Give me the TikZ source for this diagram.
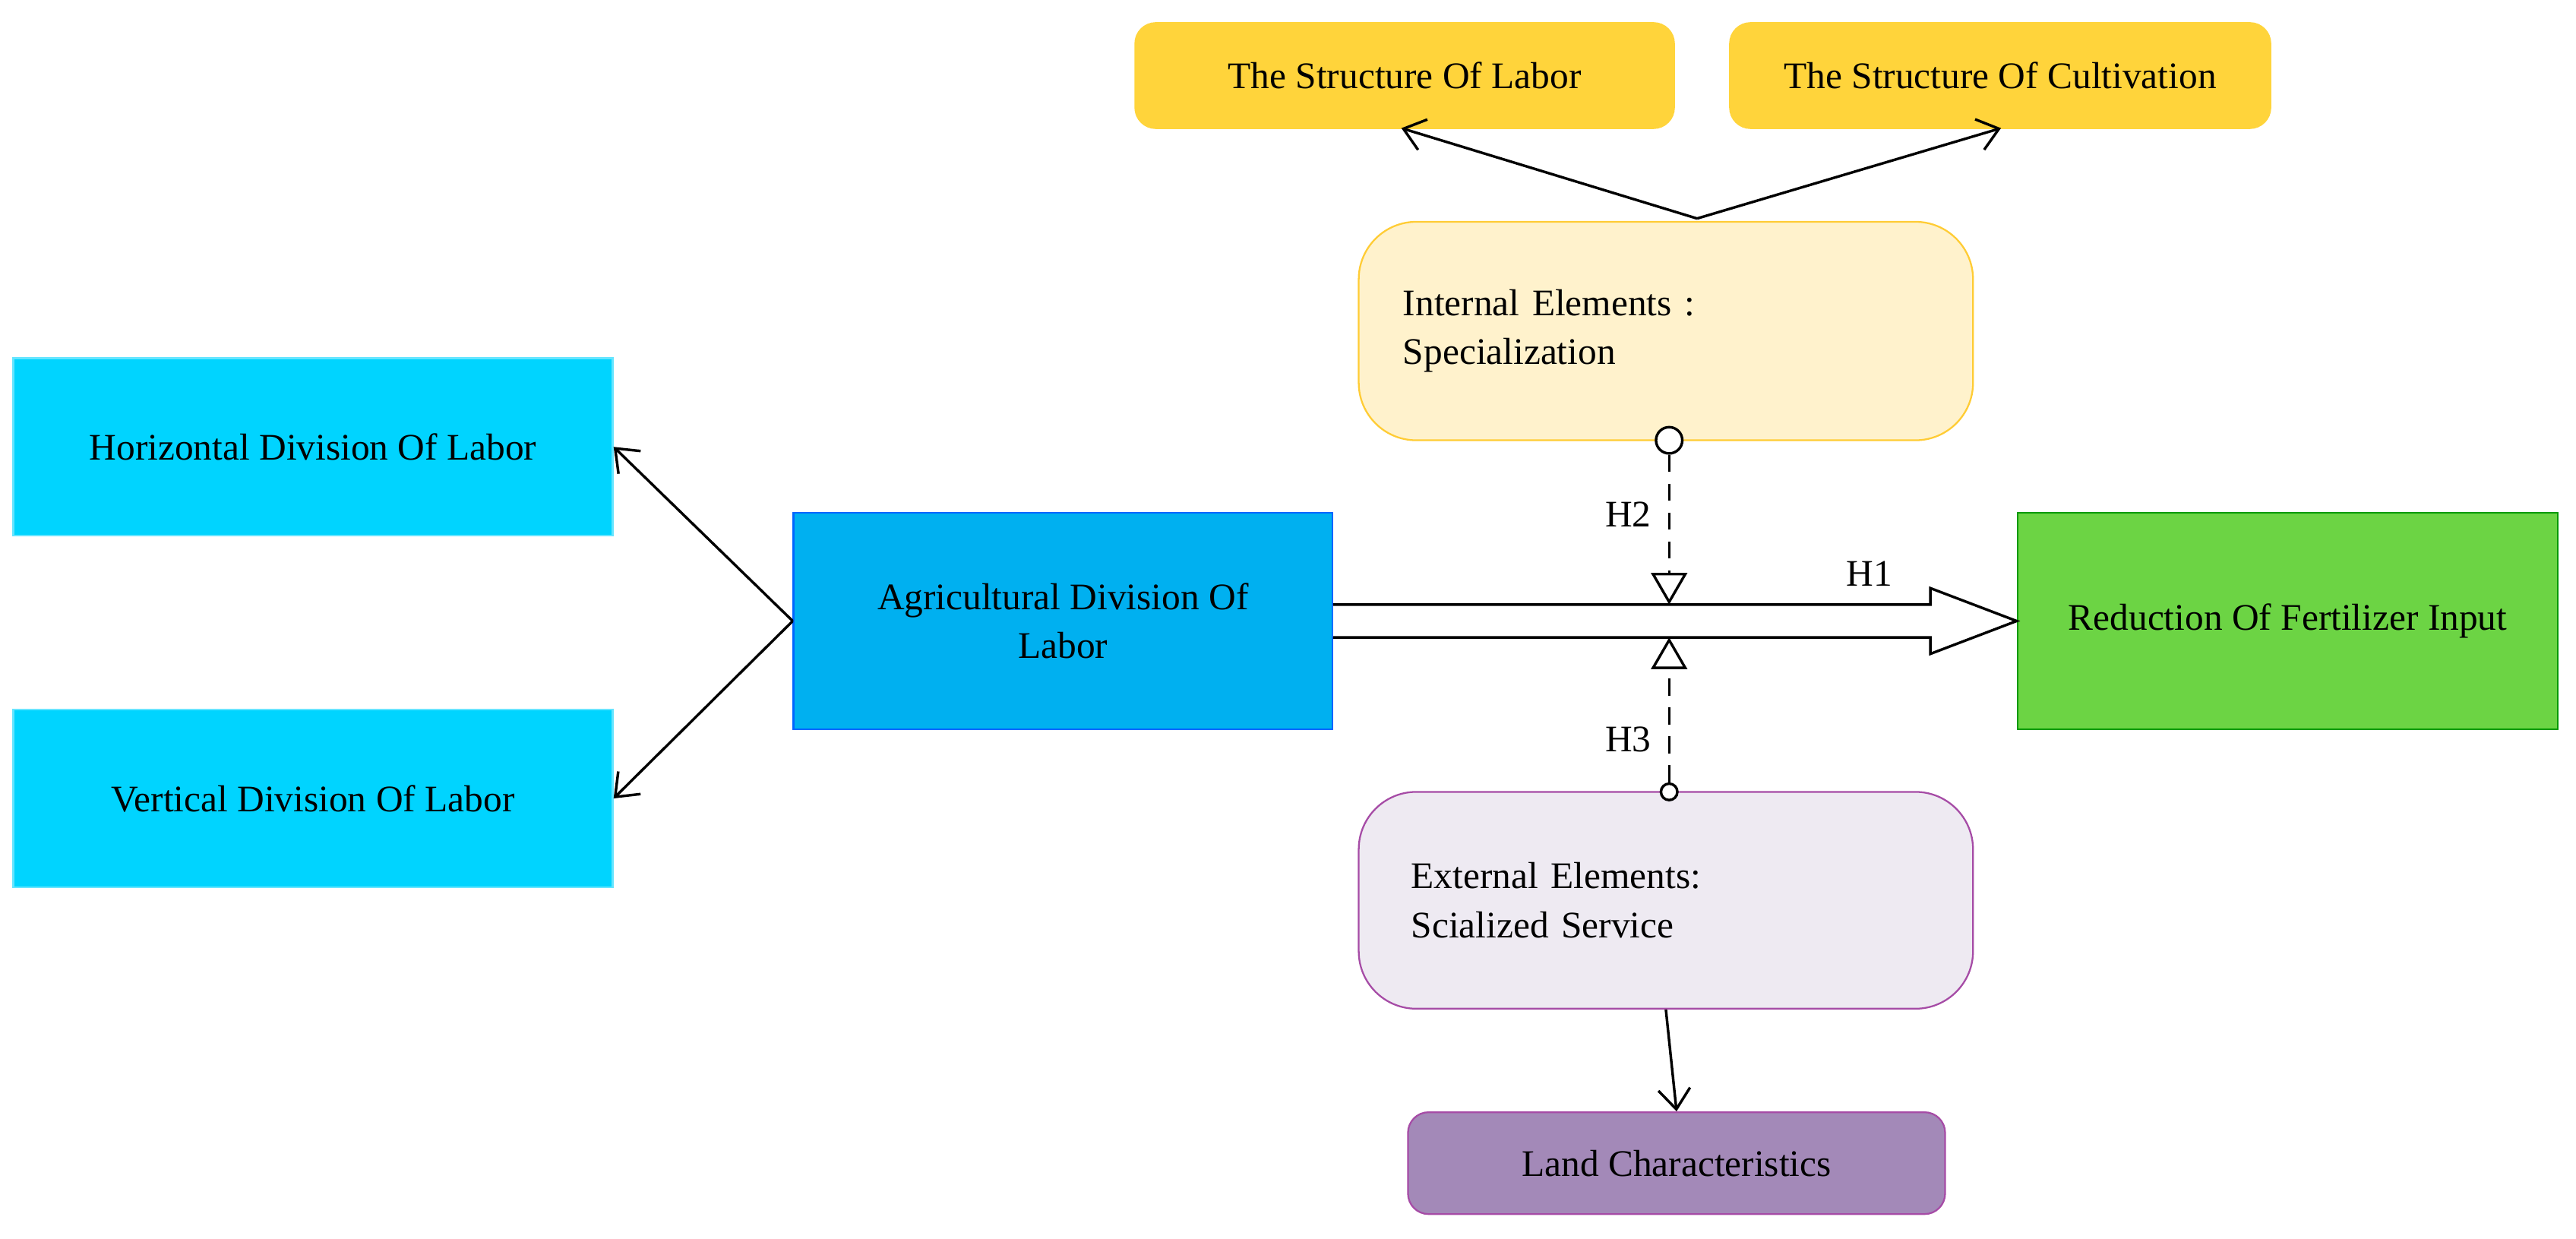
\documentclass[tikz,border=0pt]{standalone}
\usepackage{fontspec}
\setmainfont{Liberation Serif}
\usetikzlibrary{arrows.meta,positioning}

\definecolor{cyanbox}{HTML}{00D4FF}
\definecolor{bluebox}{HTML}{00B0F0}
\definecolor{greenbox}{HTML}{6CD444}
\definecolor{goldbox}{HTML}{FFD43B}
\definecolor{creambox}{HTML}{FFF2CC}
\definecolor{lilacbox}{HTML}{EEEAF2}
\definecolor{purplebox}{HTML}{A389B8}

\tikzset{
  box/.style={draw, line width=0.6pt, align=center, inner sep=2pt,
    font=\fontsize{13}{17}\selectfont},
  arr/.style={line width=0.9pt, -{Straight Barb[length=7pt,width=11pt]}},
  hyp/.style={line width=0.9pt, dashed, dash pattern=on 6pt off 4pt,
    -{Triangle[open,length=11pt,width=12.5pt]}},
}

\begin{document}
\begin{tikzpicture}[x=0.02cm, y=-0.02cm]
  \useasboundingbox (0,0) rectangle (1568,754);

  % left side
  \node[box, fill=cyanbox, draw=cyanbox!60, minimum width=7.3cm, minimum height=2.16cm]
    (horiz) at (190.5,272) {Horizontal Division Of Labor};
  \node[box, fill=cyanbox, draw=cyanbox!60, minimum width=7.3cm, minimum height=2.16cm]
    (vert) at (190.5,486) {Vertical Division Of Labor};
  \node[box, fill=bluebox, draw=blue!60!cyan, minimum width=6.56cm, minimum height=2.64cm]
    (agri) at (647,378) {Agricultural Division Of\\Labor};
  \node[box, fill=greenbox, draw=green!60!black, minimum width=6.58cm, minimum height=2.64cm]
    (redu) at (1392.5,378) {Reduction Of Fertilizer Input};

  % moderators
  \node[box, rounded corners=0.7cm, fill=creambox, draw=goldbox!90!orange,
    minimum width=7.48cm, minimum height=2.66cm, text width=6.4cm, align=left]
    (inner) at (1014,201.5) {Internal Elements :\\Specialization};
  \node[box, rounded corners=0.7cm, fill=lilacbox, draw=violet!70,
    minimum width=7.48cm, minimum height=2.64cm, text width=6.2cm, align=left]
    (outer) at (1014,548) {External Elements:\\Scialized Service};

  % outcomes
  \node[box, rounded corners=0.25cm, fill=goldbox, draw=goldbox,
    minimum width=6.56cm, minimum height=1.28cm] (slab) at (855,46) {The Structure Of Labor};
  \node[box, rounded corners=0.25cm, fill=goldbox, draw=goldbox,
    minimum width=6.58cm, minimum height=1.28cm] (scul) at (1217.5,46) {The Structure Of Cultivation};
  \node[box, rounded corners=0.25cm, fill=purplebox, draw=violet!70,
    minimum width=6.54cm, minimum height=1.24cm] (land) at (1020.5,708) {Land Characteristics};

  % connectors
  \draw[arr] (agri.west) -- (horiz.east);
  \draw[arr] (agri.west) -- (vert.east);
  \coordinate (ctop) at (1033,133);
  \draw[arr] (ctop) -- (853,78);
  \draw[arr] (ctop) -- (1218,78);
  \draw[arr] (outer.south) -- (land.north);

  % main effect
  \draw[line width=0.9pt, fill=white] (agri.east |- 0,368) -- (1175,368) -- (1175,358)
    -- (redu.west) -- (1175,398) -- (1175,388) -- (agri.east |- 0,388);
  \node[font=\fontsize{13}{17}\selectfont] (h1) at (1138,349) {H1};

  % moderation
  \node[draw, circle, line width=0.9pt, fill=white, minimum size=0.32cm, inner sep=0pt]
    (m2) at (1016,268) {};
  \coordinate (t2) at (1016,368);
  \draw[hyp] (m2) -- (t2);
  \node[font=\fontsize{13}{17}\selectfont] (h2) at (991,313) {H2};
  \node[draw, circle, line width=0.9pt, fill=white, minimum size=0.2cm, inner sep=0pt]
    (m3) at (1016,482) {};
  \coordinate (t3) at (1016,388);
  \draw[hyp] (m3) -- (t3);
  \node[font=\fontsize{13}{17}\selectfont] (h3) at (991,450) {H3};
\end{tikzpicture}
\end{document}
